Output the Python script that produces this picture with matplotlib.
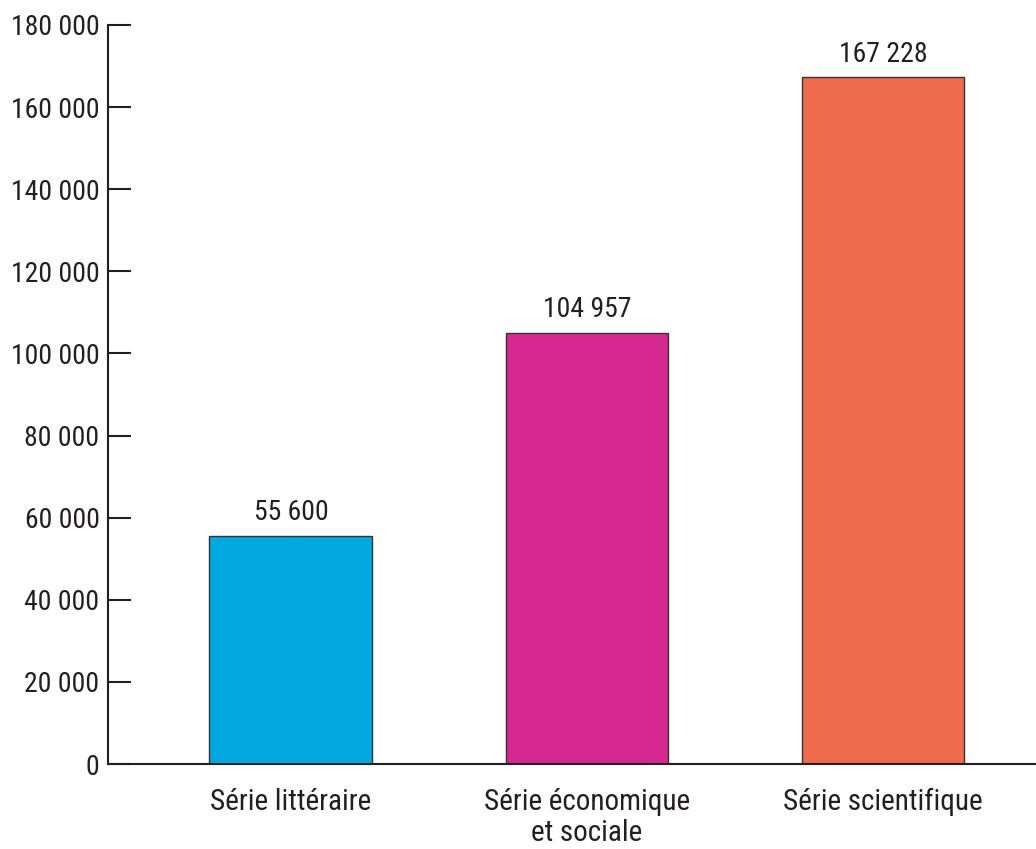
import matplotlib
matplotlib.use("Agg")
import matplotlib.pyplot as plt
from matplotlib import font_manager as fm
from matplotlib.ticker import FuncFormatter, MultipleLocator

categories = ["Série littéraire", "Série économique\net sociale", "Série scientifique"]
values = [55600, 104957, 167228]
colors = ["#00A8E0", "#D62891", "#F06A4E"]

names = {f.name for f in fm.fontManager.ttflist}
fam = [n for n in ["Liberation Sans Narrow", "Roboto Condensed", "Roboto", "DejaVu Sans"] if n in names]
plt.rcParams["font.family"] = fam + ["DejaVu Sans"]

fig = plt.figure(figsize=(10.36, 8.49), dpi=100)
ax = fig.add_axes([0.1042, 0.1001, 0.8958, 0.8705])

x = list(range(len(categories)))
bars = ax.bar(x, values, width=0.55, color=colors, edgecolor="#333333", linewidth=1.0)

def fmt(v):
    return f"{int(round(v)):,}".replace(",", " ")

for xi, v in zip(x, values):
    ax.text(xi, v + 2400, fmt(v), ha="center", va="bottom", fontsize=20, color="#231f20")

ax.set_xlim(-0.618, 2.517)
ax.set_ylim(0, 180000)
ax.yaxis.set_major_locator(MultipleLocator(20000))
ax.yaxis.set_major_formatter(FuncFormatter(lambda v, p: fmt(v)))

ax.set_xticks(x)
ax.set_xticklabels(categories, fontsize=21, color="#231f20", linespacing=1.15)
ax.tick_params(axis="x", length=0, pad=17)
ax.tick_params(axis="y", direction="in", length=16.5, width=1.5, color="#231f20",
               labelsize=20, labelcolor="#231f20", pad=6)

for s in ["top", "right"]:
    ax.spines[s].set_visible(False)
for s in ["left", "bottom"]:
    ax.spines[s].set_color("#231f20")
    ax.spines[s].set_linewidth(1.5)

fig.savefig("out.png", dpi=100)
